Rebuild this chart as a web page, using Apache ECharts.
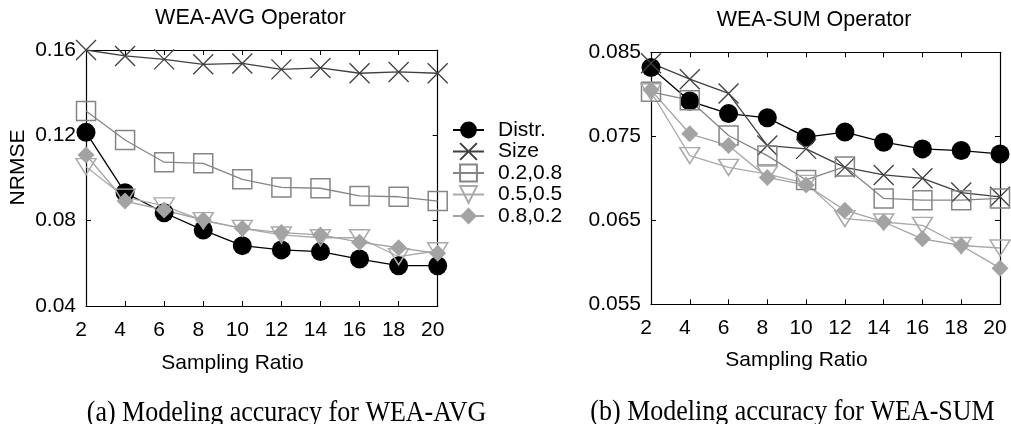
<!DOCTYPE html>
<html>
<head>
<meta charset="utf-8">
<script src="https://cdn.jsdelivr.net/npm/echarts@6/dist/echarts.min.js"></script>
<style>
html,body{margin:0;padding:0;background:#fff;}
#chart{width:1011px;height:424px;}
</style>
</head>
<body>
<div id="chart"></div>
<script>
// ---- data ----
const samplingRatio = [2, 4, 6, 8, 10, 12, 14, 16, 18, 20];
const seriesNames = ['Distr.', 'Size', '0.2,0.8', '0.5,0.5', '0.8,0.2'];

// WEA-AVG Operator
const avgDistr = [0.1214, 0.0931, 0.0837, 0.0756, 0.0683, 0.0663, 0.0655, 0.0620, 0.0589, 0.0589];
const avgSize  = [0.1600, 0.1572, 0.1556, 0.1533, 0.1537, 0.1509, 0.1516, 0.1491, 0.1497, 0.1491];
const avg28    = [0.1314, 0.1178, 0.1074, 0.1069, 0.0994, 0.0956, 0.0952, 0.0916, 0.0912, 0.0892];
const avg55    = [0.1053, 0.0910, 0.0869, 0.0800, 0.0764, 0.0733, 0.0720, 0.0720, 0.0631, 0.0659];
const avg82    = [0.1108, 0.0892, 0.0850, 0.0803, 0.0764, 0.0744, 0.0733, 0.0699, 0.0673, 0.0647];

// WEA-SUM Operator
const sumDistr = [0.0832, 0.0792, 0.0777, 0.0772, 0.0749, 0.0755, 0.0743, 0.0735, 0.0733, 0.0729];
const sumSize  = [0.0837, 0.0818, 0.0801, 0.0739, 0.0735, 0.0713, 0.0704, 0.0700, 0.0683, 0.0678];
const sum28    = [0.0803, 0.0793, 0.0751, 0.0727, 0.0698, 0.0714, 0.0676, 0.0674, 0.0674, 0.0676];
const sum55    = [0.0803, 0.0727, 0.0713, 0.0705, 0.0694, 0.0652, 0.0648, 0.0644, 0.0620, 0.0617];
const sum82    = [0.0805, 0.0753, 0.0739, 0.0701, 0.0692, 0.0662, 0.0648, 0.0628, 0.0620, 0.0593];

const avgTicks = [0.04, 0.08, 0.12, 0.16];
const sumTicks = [0.055, 0.065, 0.075, 0.085];

// ---- styles ----
const SANS = 'Liberation Sans, Arial, sans-serif';
const SERIF = 'Liberation Serif, Times New Roman, serif';
const styles = [
  {symbol: 'circle', size: 19, rotate: 0, line: '#000000', fill: '#000000', border: '#000000', bw: 0},
  {symbol: 'path://M0,0L20,20M20,0L0,20', size: 20, rotate: 0, line: '#404040', fill: 'rgba(0,0,0,0)', border: '#404040', bw: 1.3},
  {symbol: 'rect', size: 19, rotate: 0, line: '#858585', fill: 'rgba(0,0,0,0)', border: '#858585', bw: 1.5},
  {symbol: 'triangle', size: [20, 16], rotate: 180, line: '#aaaaaa', fill: 'rgba(0,0,0,0)', border: '#aaaaaa', bw: 1.5},
  {symbol: 'diamond', size: 17, rotate: 0, line: '#a3a3a3', fill: '#a3a3a3', border: '#a3a3a3', bw: 0}
];

function mkSeries(name, idx, values, axisIdx) {
  const s = styles[idx];
  return {
    name: name,
    type: 'line',
    xAxisIndex: axisIdx,
    yAxisIndex: axisIdx,
    data: samplingRatio.map((x, i) => [x, values[i]]),
    symbol: s.symbol,
    symbolSize: s.size,
    symbolRotate: s.rotate,
    showSymbol: true,
    animation: false,
    clip: false,
    lineStyle: {color: s.line, width: 1.3},
    itemStyle: {color: s.fill, borderColor: s.border, borderWidth: s.bw},
    emphasis: {disabled: true}
  };
}

const grids = [
  {left: 86, top: 50, width: 351.7, height: 256},
  {left: 651, top: 52.3, width: 349, height: 252}
];

function xAxes(gi, margin) {
  return [
    {type: 'value', gridIndex: gi, min: 2, max: 20, interval: 2, position: 'bottom',
     axisLine: {show: true, onZero: false, lineStyle: {color: '#000', width: 1.2}},
     axisTick: {show: true, inside: true, length: 5, lineStyle: {color: '#000'}},
     axisLabel: {show: true, margin: margin, fontSize: 21, fontFamily: SANS, color: '#000', padding: [0, 10, 0, 0]},
     splitLine: {show: false}},
    {type: 'value', gridIndex: gi, min: 2, max: 20, interval: 2, position: 'top',
     axisLine: {show: true, onZero: false, lineStyle: {color: '#000', width: 1.2}},
     axisTick: {show: true, inside: true, length: 5, lineStyle: {color: '#000'}},
     axisLabel: {show: false}, splitLine: {show: false}}
  ];
}

const yAxes = [
  {type: 'value', gridIndex: 0, min: 0.04, max: 0.16, interval: 0.04, position: 'left',
   axisLine: {show: true, onZero: false, lineStyle: {color: '#000', width: 1.2}},
   axisTick: {show: true, inside: true, length: 5, lineStyle: {color: '#000'}},
   axisLabel: {margin: 10, fontSize: 21, fontFamily: SANS, color: '#000', formatter: v => v.toFixed(2)},
   splitLine: {show: false}},
  {type: 'value', gridIndex: 0, min: 0.04, max: 0.16, interval: 0.04, position: 'right',
   axisLine: {show: true, onZero: false, lineStyle: {color: '#000', width: 1.2}},
   axisTick: {show: true, inside: true, length: 5, lineStyle: {color: '#000'}},
   axisLabel: {show: false}, splitLine: {show: false}},
  {type: 'value', gridIndex: 1, min: 0.055, max: 0.085, position: 'left',
   axisLine: {show: true, onZero: false, lineStyle: {color: '#000', width: 1.2}},
   axisTick: {show: true, inside: true, length: 5, lineStyle: {color: '#000'}, customValues: sumTicks},
   axisLabel: {margin: 10, fontSize: 21, fontFamily: SANS, color: '#000', customValues: sumTicks, formatter: v => v.toFixed(3)},
   splitLine: {show: false}},
  {type: 'value', gridIndex: 1, min: 0.055, max: 0.085, position: 'right',
   axisLine: {show: true, onZero: false, lineStyle: {color: '#000', width: 1.2}},
   axisTick: {show: true, inside: true, length: 5, lineStyle: {color: '#000'}, customValues: sumTicks},
   axisLabel: {show: false}, splitLine: {show: false}}
];

const avgData = [avgDistr, avgSize, avg28, avg55, avg82];
const sumData = [sumDistr, sumSize, sum28, sum55, sum82];
const series = [];
avgData.forEach((d, i) => series.push(mkSeries(seriesNames[i], i, d, 0)));
sumData.forEach((d, i) => { const s = mkSeries(seriesNames[i], i, d, 2); series.push(s); });

function txt(text, x, y, size, family, rot, sy) {
  return {type: 'text', x: x, y: y, rotation: rot || 0, scaleY: sy || 1, silent: true,
    style: {text: text, fontSize: size, fontFamily: family, fill: '#000', align: 'center', verticalAlign: 'middle'}};
}

const option = {
  backgroundColor: '#fff',
  animation: false,
  grid: grids,
  xAxis: xAxes(0, 14).concat(xAxes(1, 13)),
  yAxis: yAxes,
  legend: {
    data: seriesNames,
    orient: 'vertical',
    left: 447, top: 114.5,
    itemWidth: 31, itemHeight: 21, itemGap: 0.5,
    selectedMode: false,
    textStyle: {fontSize: 21, fontFamily: SANS, color: '#000', padding: [0, 0, 0, 9]}
  },
  series: series,
  graphic: [
    txt('WEA-AVG Operator', 250.5, 18.5, 21.5, SANS),
    txt('WEA-SUM Operator', 814, 20.5, 21.5, SANS),
    txt('NRMSE', 18, 167.5, 21, SANS, Math.PI / 2),
    txt('Sampling Ratio', 232.5, 363, 21, SANS),
    txt('Sampling Ratio', 796.5, 360, 21, SANS),
    txt('(a) Modeling accuracy for WEA-AVG', 286.5, 413, 26, SERIF, 0, 1.15),
    txt('(b) Modeling accuracy for WEA-SUM', 792.5, 412, 26, SERIF, 0, 1.15)
  ]
};

const chart = echarts.init(document.getElementById('chart'), null, {renderer: 'canvas'});
chart.setOption(option);
</script>
</body>
</html>
